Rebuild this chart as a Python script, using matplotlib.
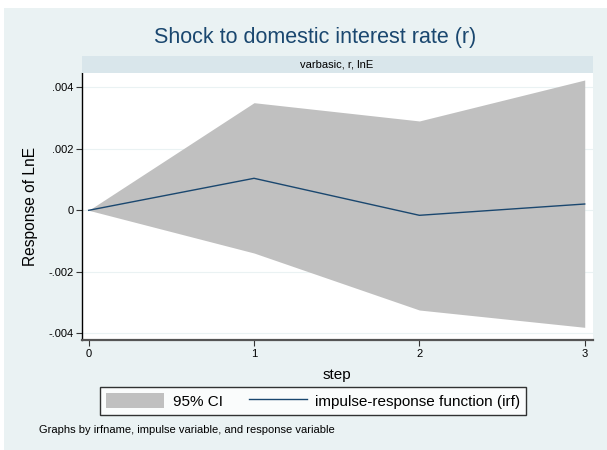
import matplotlib
matplotlib.use("Agg")
import matplotlib.pyplot as plt
from matplotlib.patches import Rectangle, Patch
from matplotlib.lines import Line2D

steps = [0, 1, 2, 3]
irf = [0.0, 0.001042, -0.000163, 0.000205]
upper = [0.0, 0.003505, 0.00291, 0.004244]
lower = [0.0, -0.001391, -0.003248, -0.003811]
yticks = [-0.004, -0.002, 0.0, 0.002, 0.004]
yticklabels = ["-.004", "-.002", "0", ".002", ".004"]
xticks = [0, 1, 2, 3]

title = "Shock to domestic interest rate (r)"
strip_label = "varbasic, r, lnE"
note = "Graphs by irfname, impulse variable, and response variable"

BG = "#EAF2F3"
STRIP = "#D9E6EB"
NAVY = "#1A476F"
FILL = "#C0C0C0"

plt.rcParams['font.family'] = ['Liberation Sans', 'DejaVu Sans']

W, H = 607, 450
fig = plt.figure(figsize=(W / 100, H / 100), dpi=100, facecolor="white")
fig.patches.append(Rectangle((4 / W, 0), 1, 1 - 8 / H, transform=fig.transFigure,
                             facecolor=BG, edgecolor="none", zorder=-10))

ax_l, ax_r, ax_t, ax_b = 81.7, 592.5, 73.0, 339.5
ax = fig.add_axes([ax_l / W, 1 - ax_b / H, (ax_r - ax_l) / W, (ax_b - ax_t) / H])
ax.set_facecolor("white")

ax.fill_between(steps, lower, upper, color=FILL, linewidth=0, zorder=2)
ax.plot(steps, irf, color=NAVY, linewidth=1.0, zorder=3)

ax.set_xlim(-0.0423, 3.047)
ax.set_ylim(-0.004208, 0.004472)
ax.set_yticks(yticks)
ax.set_yticklabels(yticklabels)
ax.set_xticks(xticks)
ax.set_xticklabels([str(s) for s in xticks])
ax.grid(axis="y", color=BG, linewidth=0.8, zorder=1)
ax.set_axisbelow(True)
for s in ["top", "right"]:
    ax.spines[s].set_visible(False)
ax.spines["left"].set_color("black")
ax.spines["left"].set_linewidth(1.0)
ax.spines["bottom"].set_color("#555555")
ax.spines["bottom"].set_linewidth(1.6)
ax.tick_params(axis="both", labelsize=8, length=4, width=0.8, color="#333333", pad=2)
ax.tick_params(axis="x", pad=3)

ax.set_ylabel("Response of LnE", fontsize=11.2, labelpad=7)
ax.set_xlabel("step", fontsize=11, labelpad=6)

# strip
sax = fig.add_axes([ax_l / W, 1 - ax_t / H, (ax_r - ax_l) / W, (ax_t - 55.7) / H])
sax.set_facecolor(STRIP)
sax.set_xticks([])
sax.set_yticks([])
for s in sax.spines.values():
    s.set_visible(False)
sax.text(0.5, 0.5, strip_label, ha="center", va="center", fontsize=8,
         transform=sax.transAxes)

fig.text(315.5 / W, 1 - 37 / H, title, ha="center", va="center", fontsize=15.5, color=NAVY)

handles = [Patch(facecolor=FILL, edgecolor="none"),
           Line2D([0], [0], color=NAVY, linewidth=1.0)]
leg = fig.legend(handles, ["95% CI", "impulse-response function (irf)"], ncol=2,
                 loc="center left", bbox_to_anchor=(100 / W, 1 - 401 / H),
                 fontsize=11, frameon=True, fancybox=False, handlelength=3.8,
                 handleheight=1.1, handletextpad=0.55, columnspacing=1.7,
                 borderpad=0.4, borderaxespad=0)
leg.get_frame().set_edgecolor("black")
leg.get_frame().set_linewidth(1.0)
leg.get_frame().set_facecolor("white")

fig.text(39 / W, 1 - 430 / H, note, ha="left", va="center", fontsize=8)

fig.savefig("out.png", dpi=100, facecolor=fig.get_facecolor())
